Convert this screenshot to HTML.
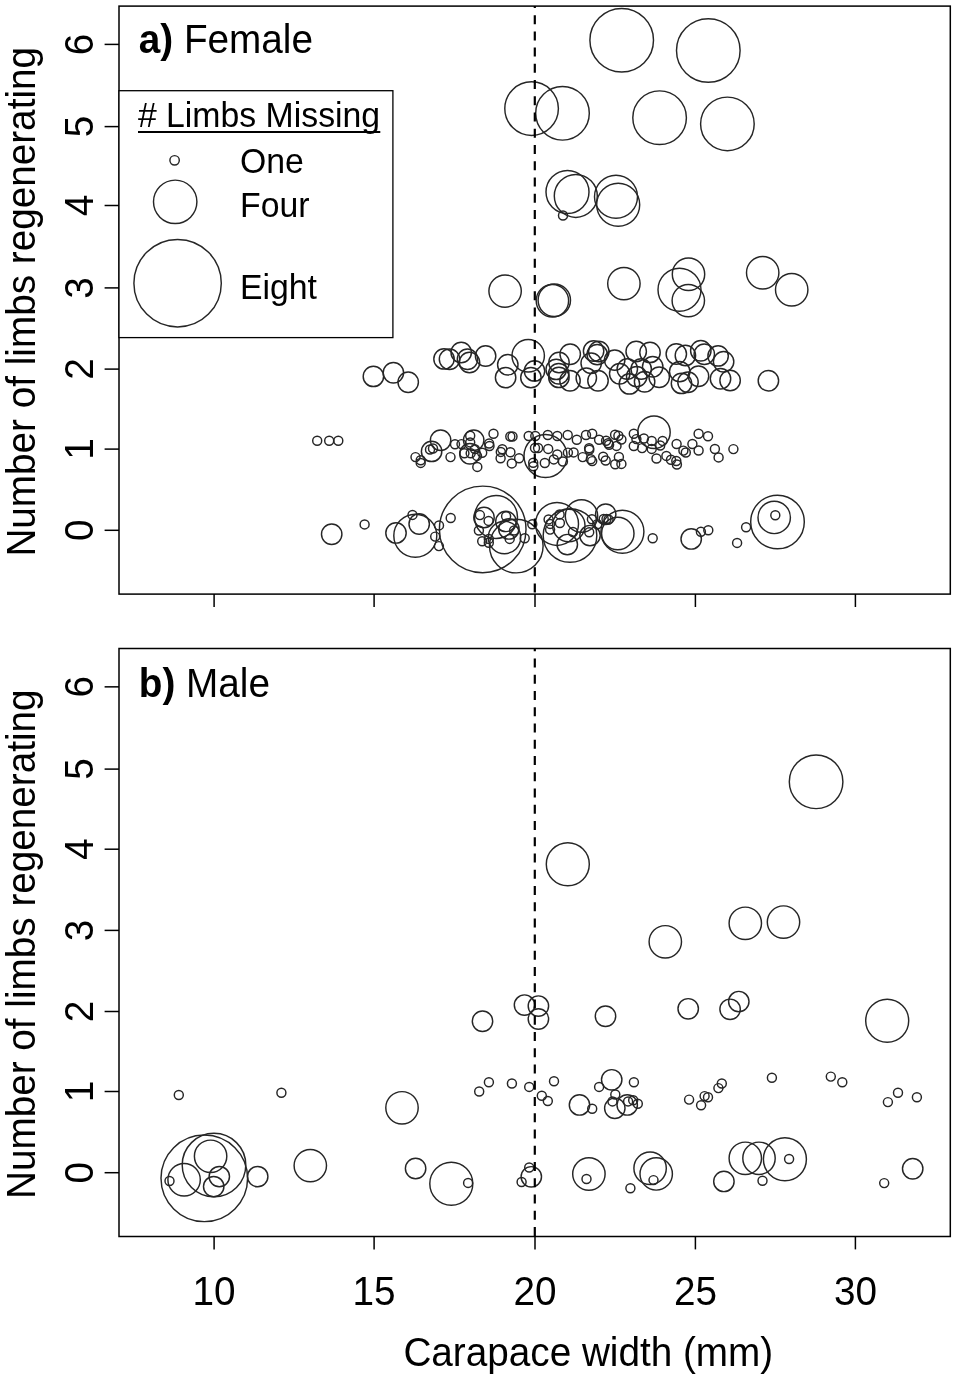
<!DOCTYPE html><html><head><meta charset="utf-8"><style>html,body{margin:0;padding:0;background:#fff}svg{display:block;will-change:transform}text{font-family:"Liberation Sans",sans-serif;fill:#000}</style></head><body>
<svg width="956" height="1380" viewBox="0 0 956 1380">
<rect width="956" height="1380" fill="#fff"/>
<g fill="none" stroke="#262626" stroke-width="1.45">
<circle cx="621.7" cy="40.2" r="31.80"/>
<circle cx="708.3" cy="50.5" r="31.80"/>
<circle cx="531.6" cy="108.6" r="26.80"/>
<circle cx="562.5" cy="113.3" r="26.80"/>
<circle cx="659.6" cy="117.7" r="26.80"/>
<circle cx="727.4" cy="123.9" r="26.80"/>
<circle cx="567.5" cy="192.0" r="21.50"/>
<circle cx="575.8" cy="195.9" r="21.50"/>
<circle cx="616.0" cy="196.7" r="21.50"/>
<circle cx="618.2" cy="204.8" r="21.50"/>
<circle cx="563.0" cy="215.5" r="4.50"/>
<circle cx="505.1" cy="291.1" r="16.20"/>
<circle cx="552.4" cy="300.8" r="16.20"/>
<circle cx="554.3" cy="300.3" r="16.20"/>
<circle cx="623.9" cy="283.6" r="16.20"/>
<circle cx="688.5" cy="274.3" r="16.20"/>
<circle cx="679.5" cy="289.8" r="21.50"/>
<circle cx="688.3" cy="300.6" r="16.20"/>
<circle cx="762.7" cy="272.7" r="16.20"/>
<circle cx="791.7" cy="289.8" r="16.20"/>
<circle cx="373.4" cy="376.4" r="10.20"/>
<circle cx="393.4" cy="372.8" r="10.20"/>
<circle cx="408.2" cy="382.3" r="10.20"/>
<circle cx="444.0" cy="358.9" r="10.20"/>
<circle cx="449.5" cy="359.2" r="10.20"/>
<circle cx="461.2" cy="352.5" r="10.20"/>
<circle cx="467.5" cy="359.3" r="10.20"/>
<circle cx="469.5" cy="362.5" r="10.20"/>
<circle cx="485.6" cy="356.0" r="10.20"/>
<circle cx="507.8" cy="364.7" r="10.20"/>
<circle cx="505.6" cy="377.6" r="10.20"/>
<circle cx="528.2" cy="355.7" r="16.20"/>
<circle cx="534.5" cy="370.9" r="10.20"/>
<circle cx="530.9" cy="377.6" r="10.20"/>
<circle cx="570.2" cy="354.2" r="10.20"/>
<circle cx="559.0" cy="362.5" r="10.20"/>
<circle cx="556.2" cy="369.4" r="10.20"/>
<circle cx="558.7" cy="373.8" r="10.20"/>
<circle cx="558.9" cy="377.4" r="10.20"/>
<circle cx="570.0" cy="380.7" r="10.20"/>
<circle cx="593.6" cy="351.0" r="10.20"/>
<circle cx="598.8" cy="351.5" r="10.20"/>
<circle cx="597.2" cy="354.6" r="10.20"/>
<circle cx="591.2" cy="363.2" r="10.20"/>
<circle cx="586.3" cy="378.1" r="10.20"/>
<circle cx="598.0" cy="380.7" r="10.20"/>
<circle cx="614.7" cy="360.1" r="10.20"/>
<circle cx="636.2" cy="351.5" r="10.20"/>
<circle cx="650.0" cy="352.4" r="10.20"/>
<circle cx="619.7" cy="373.7" r="10.20"/>
<circle cx="627.3" cy="369.0" r="10.20"/>
<circle cx="629.4" cy="383.9" r="10.20"/>
<circle cx="636.7" cy="376.6" r="10.20"/>
<circle cx="641.2" cy="369.0" r="10.20"/>
<circle cx="644.6" cy="381.8" r="10.20"/>
<circle cx="652.7" cy="366.7" r="10.20"/>
<circle cx="659.2" cy="377.3" r="10.20"/>
<circle cx="676.3" cy="354.0" r="10.20"/>
<circle cx="685.4" cy="355.5" r="10.20"/>
<circle cx="700.8" cy="350.7" r="10.20"/>
<circle cx="704.3" cy="354.3" r="10.20"/>
<circle cx="718.1" cy="355.9" r="10.20"/>
<circle cx="723.6" cy="361.7" r="10.20"/>
<circle cx="679.7" cy="371.6" r="10.20"/>
<circle cx="681.5" cy="383.4" r="10.20"/>
<circle cx="688.0" cy="382.3" r="10.20"/>
<circle cx="698.5" cy="376.3" r="10.20"/>
<circle cx="720.5" cy="378.7" r="10.20"/>
<circle cx="730.1" cy="380.5" r="10.20"/>
<circle cx="768.4" cy="380.7" r="10.20"/>
<circle cx="317.2" cy="440.7" r="4.50"/>
<circle cx="329.2" cy="440.7" r="4.50"/>
<circle cx="338.3" cy="440.7" r="4.50"/>
<circle cx="415.5" cy="457.1" r="4.50"/>
<circle cx="420.7" cy="460.3" r="4.50"/>
<circle cx="420.7" cy="462.9" r="4.50"/>
<circle cx="431.6" cy="451.4" r="10.20"/>
<circle cx="430.0" cy="449.5" r="4.50"/>
<circle cx="433.0" cy="448.5" r="4.50"/>
<circle cx="440.6" cy="440.2" r="10.20"/>
<circle cx="455.0" cy="444.3" r="4.50"/>
<circle cx="461.5" cy="444.1" r="4.50"/>
<circle cx="450.5" cy="457.1" r="4.50"/>
<circle cx="473.7" cy="440.3" r="10.20"/>
<circle cx="469.9" cy="453.8" r="10.20"/>
<circle cx="470.2" cy="435.7" r="4.50"/>
<circle cx="470.2" cy="442.4" r="4.50"/>
<circle cx="464.4" cy="453.2" r="4.50"/>
<circle cx="470.7" cy="453.2" r="4.50"/>
<circle cx="474.9" cy="449.1" r="4.50"/>
<circle cx="477.0" cy="455.9" r="4.50"/>
<circle cx="482.2" cy="452.7" r="4.50"/>
<circle cx="477.3" cy="466.9" r="4.50"/>
<circle cx="493.5" cy="433.7" r="4.50"/>
<circle cx="489.1" cy="443.5" r="4.50"/>
<circle cx="489.5" cy="446.0" r="4.50"/>
<circle cx="502.3" cy="449.2" r="4.50"/>
<circle cx="500.8" cy="451.9" r="4.50"/>
<circle cx="500.6" cy="458.3" r="4.50"/>
<circle cx="510.3" cy="436.5" r="4.50"/>
<circle cx="512.5" cy="436.5" r="4.50"/>
<circle cx="510.4" cy="452.2" r="4.50"/>
<circle cx="519.1" cy="458.3" r="4.50"/>
<circle cx="511.8" cy="463.4" r="4.50"/>
<circle cx="528.7" cy="436.0" r="4.50"/>
<circle cx="535.3" cy="436.0" r="4.50"/>
<circle cx="535.0" cy="448.0" r="4.50"/>
<circle cx="538.1" cy="448.0" r="4.50"/>
<circle cx="533.2" cy="462.7" r="4.50"/>
<circle cx="533.4" cy="466.3" r="4.50"/>
<circle cx="545.5" cy="456.0" r="21.50"/>
<circle cx="547.8" cy="435.0" r="4.50"/>
<circle cx="557.3" cy="436.0" r="4.50"/>
<circle cx="567.7" cy="435.0" r="4.50"/>
<circle cx="576.8" cy="439.8" r="4.50"/>
<circle cx="586.0" cy="435.0" r="4.50"/>
<circle cx="592.2" cy="433.8" r="4.50"/>
<circle cx="548.2" cy="448.9" r="4.50"/>
<circle cx="557.3" cy="454.5" r="4.50"/>
<circle cx="567.9" cy="452.6" r="4.50"/>
<circle cx="573.6" cy="452.4" r="4.50"/>
<circle cx="582.7" cy="457.1" r="4.50"/>
<circle cx="589.1" cy="448.2" r="4.50"/>
<circle cx="589.3" cy="449.8" r="4.50"/>
<circle cx="590.8" cy="459.2" r="4.50"/>
<circle cx="592.2" cy="461.1" r="4.50"/>
<circle cx="544.8" cy="463.0" r="4.50"/>
<circle cx="553.8" cy="459.4" r="4.50"/>
<circle cx="562.9" cy="461.5" r="4.50"/>
<circle cx="599.1" cy="439.8" r="4.50"/>
<circle cx="606.1" cy="440.8" r="4.50"/>
<circle cx="608.2" cy="443.2" r="4.50"/>
<circle cx="609.1" cy="444.8" r="4.50"/>
<circle cx="615.1" cy="434.8" r="4.50"/>
<circle cx="618.4" cy="435.7" r="4.50"/>
<circle cx="621.4" cy="439.5" r="4.50"/>
<circle cx="616.5" cy="445.9" r="4.50"/>
<circle cx="603.2" cy="456.7" r="4.50"/>
<circle cx="605.7" cy="460.5" r="4.50"/>
<circle cx="618.9" cy="457.0" r="4.50"/>
<circle cx="615.2" cy="464.3" r="4.50"/>
<circle cx="621.4" cy="463.9" r="4.50"/>
<circle cx="654.0" cy="432.2" r="16.20"/>
<circle cx="633.8" cy="433.8" r="4.50"/>
<circle cx="643.9" cy="438.5" r="4.50"/>
<circle cx="651.7" cy="440.9" r="4.50"/>
<circle cx="662.6" cy="440.9" r="4.50"/>
<circle cx="660.2" cy="445.5" r="4.50"/>
<circle cx="633.8" cy="446.0" r="4.50"/>
<circle cx="642.1" cy="448.1" r="4.50"/>
<circle cx="651.7" cy="448.9" r="4.50"/>
<circle cx="636.4" cy="439.1" r="4.50"/>
<circle cx="656.5" cy="458.5" r="4.50"/>
<circle cx="666.4" cy="455.9" r="4.50"/>
<circle cx="671.0" cy="459.8" r="4.50"/>
<circle cx="676.3" cy="461.0" r="4.50"/>
<circle cx="676.9" cy="464.5" r="4.50"/>
<circle cx="676.6" cy="444.0" r="4.50"/>
<circle cx="683.4" cy="450.6" r="4.50"/>
<circle cx="685.8" cy="452.5" r="4.50"/>
<circle cx="692.4" cy="444.0" r="4.50"/>
<circle cx="698.6" cy="433.8" r="4.50"/>
<circle cx="698.6" cy="450.5" r="4.50"/>
<circle cx="708.0" cy="436.3" r="4.50"/>
<circle cx="714.9" cy="449.0" r="4.50"/>
<circle cx="718.6" cy="457.4" r="4.50"/>
<circle cx="733.4" cy="449.1" r="4.50"/>
<circle cx="331.7" cy="534.2" r="10.20"/>
<circle cx="364.6" cy="524.4" r="4.50"/>
<circle cx="396.0" cy="532.9" r="10.20"/>
<circle cx="415.3" cy="535.7" r="21.50"/>
<circle cx="419.2" cy="524.0" r="10.20"/>
<circle cx="412.5" cy="514.9" r="4.50"/>
<circle cx="439.0" cy="525.4" r="4.50"/>
<circle cx="435.2" cy="536.6" r="4.50"/>
<circle cx="438.9" cy="546.1" r="4.50"/>
<circle cx="450.7" cy="518.0" r="4.50"/>
<circle cx="482.7" cy="529.4" r="43.30"/>
<circle cx="496.0" cy="517.0" r="21.50"/>
<circle cx="484.0" cy="517.5" r="10.20"/>
<circle cx="479.9" cy="515.1" r="4.50"/>
<circle cx="488.6" cy="520.9" r="4.50"/>
<circle cx="478.9" cy="530.5" r="4.50"/>
<circle cx="482.2" cy="541.3" r="4.50"/>
<circle cx="488.8" cy="538.9" r="4.50"/>
<circle cx="488.8" cy="542.7" r="4.50"/>
<circle cx="505.9" cy="521.4" r="10.20"/>
<circle cx="506.1" cy="516.3" r="4.50"/>
<circle cx="508.9" cy="528.9" r="10.20"/>
<circle cx="514.1" cy="530.5" r="4.50"/>
<circle cx="509.7" cy="538.9" r="4.50"/>
<circle cx="524.7" cy="538.3" r="4.50"/>
<circle cx="504.5" cy="537.5" r="16.20"/>
<circle cx="516.3" cy="546.1" r="26.80"/>
<circle cx="557.0" cy="523.9" r="21.50"/>
<circle cx="570.0" cy="535.5" r="26.80"/>
<circle cx="581.5" cy="516.0" r="16.20"/>
<circle cx="567.3" cy="544.6" r="10.20"/>
<circle cx="548.6" cy="519.4" r="4.50"/>
<circle cx="559.6" cy="514.4" r="4.50"/>
<circle cx="559.9" cy="523.0" r="4.50"/>
<circle cx="550.1" cy="523.9" r="4.50"/>
<circle cx="550.1" cy="529.6" r="4.50"/>
<circle cx="573.0" cy="532.0" r="4.50"/>
<circle cx="532.3" cy="524.3" r="4.50"/>
<circle cx="589.2" cy="532.3" r="4.50"/>
<circle cx="590.0" cy="535.6" r="10.20"/>
<circle cx="568.8" cy="525.5" r="16.20"/>
<circle cx="591.9" cy="519.2" r="4.50"/>
<circle cx="597.3" cy="524.3" r="4.50"/>
<circle cx="617.8" cy="533.5" r="16.20"/>
<circle cx="622.4" cy="531.8" r="21.50"/>
<circle cx="605.7" cy="514.3" r="10.20"/>
<circle cx="603.7" cy="519.0" r="4.50"/>
<circle cx="606.5" cy="519.0" r="4.50"/>
<circle cx="608.5" cy="519.5" r="4.50"/>
<circle cx="652.7" cy="538.3" r="4.50"/>
<circle cx="691.2" cy="538.9" r="10.20"/>
<circle cx="700.9" cy="531.8" r="4.50"/>
<circle cx="708.3" cy="530.2" r="4.50"/>
<circle cx="746.1" cy="527.2" r="4.50"/>
<circle cx="737.1" cy="542.9" r="4.50"/>
<circle cx="777.5" cy="522.0" r="26.80"/>
<circle cx="774.2" cy="517.4" r="16.20"/>
<circle cx="775.3" cy="515.2" r="4.50"/>
</g>
<clipPath id="ca"><rect x="119.0" y="6.1" width="831.3" height="588.0"/></clipPath>
<line x1="534.8" y1="-1.1" x2="534.8" y2="594.1" stroke="#000" stroke-width="2.2" stroke-dasharray="9 7.24" clip-path="url(#ca)"/>
<rect x="119.0" y="6.1" width="831.3" height="588.0" fill="none" stroke="#000" stroke-width="1.5"/>
<line x1="104.6" y1="530.30" x2="119.0" y2="530.30" stroke="#000" stroke-width="1.5"/>
<text transform="translate(93.00,530.30) rotate(-90) scale(1,1.04)" font-size="38.7" text-anchor="middle">0</text>
<line x1="104.6" y1="449.10" x2="119.0" y2="449.10" stroke="#000" stroke-width="1.5"/>
<text transform="translate(93.00,449.10) rotate(-90) scale(1,1.04)" font-size="38.7" text-anchor="middle">1</text>
<line x1="104.6" y1="369.10" x2="119.0" y2="369.10" stroke="#000" stroke-width="1.5"/>
<text transform="translate(93.00,369.10) rotate(-90) scale(1,1.04)" font-size="38.7" text-anchor="middle">2</text>
<line x1="104.6" y1="287.90" x2="119.0" y2="287.90" stroke="#000" stroke-width="1.5"/>
<text transform="translate(93.00,287.90) rotate(-90) scale(1,1.04)" font-size="38.7" text-anchor="middle">3</text>
<line x1="104.6" y1="205.50" x2="119.0" y2="205.50" stroke="#000" stroke-width="1.5"/>
<text transform="translate(93.00,205.50) rotate(-90) scale(1,1.04)" font-size="38.7" text-anchor="middle">4</text>
<line x1="104.6" y1="126.60" x2="119.0" y2="126.60" stroke="#000" stroke-width="1.5"/>
<text transform="translate(93.00,126.60) rotate(-90) scale(1,1.04)" font-size="38.7" text-anchor="middle">5</text>
<line x1="104.6" y1="44.40" x2="119.0" y2="44.40" stroke="#000" stroke-width="1.5"/>
<text transform="translate(93.00,44.40) rotate(-90) scale(1,1.04)" font-size="38.7" text-anchor="middle">6</text>
<line x1="214.10" y1="594.1" x2="214.10" y2="607.0" stroke="#000" stroke-width="1.5"/>
<line x1="374.10" y1="594.1" x2="374.10" y2="607.0" stroke="#000" stroke-width="1.5"/>
<line x1="535.00" y1="594.1" x2="535.00" y2="607.0" stroke="#000" stroke-width="1.5"/>
<line x1="695.40" y1="594.1" x2="695.40" y2="607.0" stroke="#000" stroke-width="1.5"/>
<line x1="855.40" y1="594.1" x2="855.40" y2="607.0" stroke="#000" stroke-width="1.5"/>
<text transform="translate(34.50,301.80) rotate(-90) scale(1,1.04)" font-size="38.7" text-anchor="middle">Number of limbs regenerating</text>
<g fill="none" stroke="#262626" stroke-width="1.45">
<circle cx="178.8" cy="1095.0" r="4.50"/>
<circle cx="281.4" cy="1092.7" r="4.50"/>
<circle cx="204.3" cy="1178.3" r="43.30"/>
<circle cx="214.0" cy="1165.1" r="31.80"/>
<circle cx="210.6" cy="1156.3" r="16.20"/>
<circle cx="184.1" cy="1179.7" r="16.20"/>
<circle cx="169.5" cy="1181.0" r="4.50"/>
<circle cx="219.3" cy="1176.6" r="10.20"/>
<circle cx="213.7" cy="1186.6" r="10.20"/>
<circle cx="257.7" cy="1176.6" r="10.20"/>
<circle cx="310.3" cy="1165.6" r="16.20"/>
<circle cx="402.0" cy="1107.8" r="16.20"/>
<circle cx="415.6" cy="1168.5" r="10.20"/>
<circle cx="451.3" cy="1183.7" r="21.50"/>
<circle cx="468.1" cy="1182.9" r="4.50"/>
<circle cx="479.2" cy="1091.5" r="4.50"/>
<circle cx="488.9" cy="1082.3" r="4.50"/>
<circle cx="511.9" cy="1083.5" r="4.50"/>
<circle cx="529.2" cy="1086.9" r="4.50"/>
<circle cx="541.8" cy="1095.7" r="4.50"/>
<circle cx="547.8" cy="1101.0" r="4.50"/>
<circle cx="554.0" cy="1081.2" r="4.50"/>
<circle cx="531.3" cy="1176.8" r="10.20"/>
<circle cx="529.2" cy="1167.5" r="4.50"/>
<circle cx="521.6" cy="1182.0" r="4.50"/>
<circle cx="579.5" cy="1104.9" r="10.20"/>
<circle cx="592.2" cy="1108.8" r="4.50"/>
<circle cx="599.1" cy="1086.9" r="4.50"/>
<circle cx="611.7" cy="1079.8" r="10.20"/>
<circle cx="633.9" cy="1082.3" r="4.50"/>
<circle cx="615.3" cy="1094.5" r="4.50"/>
<circle cx="612.5" cy="1101.4" r="4.50"/>
<circle cx="614.8" cy="1108.3" r="10.20"/>
<circle cx="627.2" cy="1104.9" r="10.20"/>
<circle cx="628.1" cy="1101.4" r="4.50"/>
<circle cx="633.2" cy="1100.3" r="4.50"/>
<circle cx="637.8" cy="1103.7" r="4.50"/>
<circle cx="689.1" cy="1099.6" r="4.50"/>
<circle cx="701.1" cy="1105.3" r="4.50"/>
<circle cx="704.6" cy="1096.1" r="4.50"/>
<circle cx="708.0" cy="1097.3" r="4.50"/>
<circle cx="718.4" cy="1088.1" r="4.50"/>
<circle cx="721.8" cy="1083.5" r="4.50"/>
<circle cx="588.9" cy="1174.0" r="16.20"/>
<circle cx="586.5" cy="1179.0" r="4.50"/>
<circle cx="650.1" cy="1168.2" r="16.20"/>
<circle cx="656.2" cy="1173.9" r="16.20"/>
<circle cx="653.5" cy="1180.1" r="4.50"/>
<circle cx="630.4" cy="1188.2" r="4.50"/>
<circle cx="723.9" cy="1181.4" r="10.20"/>
<circle cx="745.3" cy="1158.3" r="16.20"/>
<circle cx="771.9" cy="1077.7" r="4.50"/>
<circle cx="830.8" cy="1076.6" r="4.50"/>
<circle cx="842.3" cy="1082.3" r="4.50"/>
<circle cx="898.0" cy="1092.7" r="4.50"/>
<circle cx="887.9" cy="1102.1" r="4.50"/>
<circle cx="916.9" cy="1097.3" r="4.50"/>
<circle cx="759.0" cy="1158.3" r="16.20"/>
<circle cx="784.9" cy="1159.2" r="21.50"/>
<circle cx="789.1" cy="1159.0" r="4.50"/>
<circle cx="762.5" cy="1180.8" r="4.50"/>
<circle cx="912.7" cy="1168.7" r="10.20"/>
<circle cx="884.2" cy="1183.1" r="4.50"/>
<circle cx="482.5" cy="1021.2" r="10.20"/>
<circle cx="524.5" cy="1005.1" r="10.20"/>
<circle cx="538.4" cy="1006.1" r="10.20"/>
<circle cx="538.4" cy="1019.0" r="10.20"/>
<circle cx="605.5" cy="1016.2" r="10.20"/>
<circle cx="688.2" cy="1008.8" r="10.20"/>
<circle cx="730.1" cy="1009.3" r="10.20"/>
<circle cx="738.8" cy="1001.6" r="10.20"/>
<circle cx="887.2" cy="1020.8" r="21.50"/>
<circle cx="816.1" cy="781.8" r="26.80"/>
<circle cx="567.8" cy="864.3" r="21.50"/>
<circle cx="665.3" cy="941.8" r="16.20"/>
<circle cx="745.3" cy="923.3" r="16.20"/>
<circle cx="783.5" cy="922.1" r="16.20"/>
</g>
<clipPath id="cb"><rect x="119.0" y="648.5" width="831.3" height="588.0"/></clipPath>
<line x1="534.8" y1="642.3" x2="534.8" y2="1236.5" stroke="#000" stroke-width="2.2" stroke-dasharray="9 7.24" clip-path="url(#cb)"/>
<rect x="119.0" y="648.5" width="831.3" height="588.0" fill="none" stroke="#000" stroke-width="1.5"/>
<line x1="104.6" y1="1172.70" x2="119.0" y2="1172.70" stroke="#000" stroke-width="1.5"/>
<text transform="translate(93.00,1172.70) rotate(-90) scale(1,1.04)" font-size="38.7" text-anchor="middle">0</text>
<line x1="104.6" y1="1091.50" x2="119.0" y2="1091.50" stroke="#000" stroke-width="1.5"/>
<text transform="translate(93.00,1091.50) rotate(-90) scale(1,1.04)" font-size="38.7" text-anchor="middle">1</text>
<line x1="104.6" y1="1011.50" x2="119.0" y2="1011.50" stroke="#000" stroke-width="1.5"/>
<text transform="translate(93.00,1011.50) rotate(-90) scale(1,1.04)" font-size="38.7" text-anchor="middle">2</text>
<line x1="104.6" y1="930.40" x2="119.0" y2="930.40" stroke="#000" stroke-width="1.5"/>
<text transform="translate(93.00,930.40) rotate(-90) scale(1,1.04)" font-size="38.7" text-anchor="middle">3</text>
<line x1="104.6" y1="849.20" x2="119.0" y2="849.20" stroke="#000" stroke-width="1.5"/>
<text transform="translate(93.00,849.20) rotate(-90) scale(1,1.04)" font-size="38.7" text-anchor="middle">4</text>
<line x1="104.6" y1="769.10" x2="119.0" y2="769.10" stroke="#000" stroke-width="1.5"/>
<text transform="translate(93.00,769.10) rotate(-90) scale(1,1.04)" font-size="38.7" text-anchor="middle">5</text>
<line x1="104.6" y1="686.85" x2="119.0" y2="686.85" stroke="#000" stroke-width="1.5"/>
<text transform="translate(93.00,686.85) rotate(-90) scale(1,1.04)" font-size="38.7" text-anchor="middle">6</text>
<line x1="214.10" y1="1236.5" x2="214.10" y2="1249.4" stroke="#000" stroke-width="1.5"/>
<line x1="374.10" y1="1236.5" x2="374.10" y2="1249.4" stroke="#000" stroke-width="1.5"/>
<line x1="535.00" y1="1236.5" x2="535.00" y2="1249.4" stroke="#000" stroke-width="1.5"/>
<line x1="695.40" y1="1236.5" x2="695.40" y2="1249.4" stroke="#000" stroke-width="1.5"/>
<line x1="855.40" y1="1236.5" x2="855.40" y2="1249.4" stroke="#000" stroke-width="1.5"/>
<text transform="translate(34.50,944.20) rotate(-90) scale(1,1.04)" font-size="38.7" text-anchor="middle">Number of limbs regenerating</text>
<text transform="translate(214.10,1305.20) scale(1,1.04)" font-size="38.7" text-anchor="middle">10</text>
<text transform="translate(374.10,1305.20) scale(1,1.04)" font-size="38.7" text-anchor="middle">15</text>
<text transform="translate(535.00,1305.20) scale(1,1.04)" font-size="38.7" text-anchor="middle">20</text>
<text transform="translate(695.40,1305.20) scale(1,1.04)" font-size="38.7" text-anchor="middle">25</text>
<text transform="translate(855.40,1305.20) scale(1,1.04)" font-size="38.7" text-anchor="middle">30</text>
<text transform="translate(588.30,1365.60) scale(1,1.04)" font-size="38.7" text-anchor="middle">Carapace width (mm)</text>
<text transform="translate(138.80,52.90) scale(1,1.04)" font-size="38.7"><tspan font-weight="bold">a)</tspan> Female</text>
<text transform="translate(138.80,696.60) scale(1,1.04)" font-size="38.7"><tspan font-weight="bold">b)</tspan> Male</text>
<rect x="119.0" y="90.7" width="273.9" height="246.9" fill="#fff" stroke="#000" stroke-width="1.3"/>
<text transform="translate(137.90,126.80) scale(1,1.04)" font-size="33.8">#&#160;Limbs Missing</text>
<line x1="138" y1="132" x2="380.3" y2="132" stroke="#000" stroke-width="2"/>
<g fill="none" stroke="#262626" stroke-width="1.45"><circle cx="174.6" cy="160.3" r="4.7"/><circle cx="175.2" cy="201.8" r="21.7"/><circle cx="177.6" cy="283.2" r="43.7"/></g>
<text transform="translate(240.00,172.60) scale(1,1.04)" font-size="33.8">One</text>
<text transform="translate(240.00,216.60) scale(1,1.04)" font-size="33.8">Four</text>
<text transform="translate(240.00,298.90) scale(1,1.04)" font-size="33.8">Eight</text>
</svg></body></html>
